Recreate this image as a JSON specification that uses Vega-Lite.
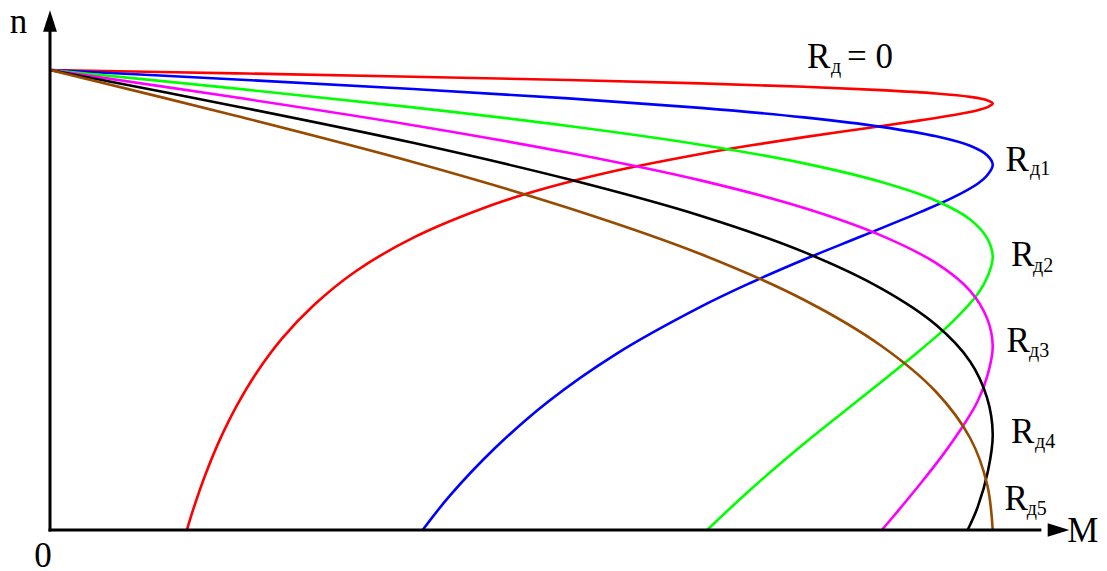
{
  "$schema": "https://vega.github.io/schema/vega-lite/v6.json",
  "autosize": {"type": "none"},
  "width": 1037,
  "height": 520,
  "padding": {"left": 50, "top": 10, "right": 20, "bottom": 41},
  "background": "white",
  "config": {"view": {"stroke": null}},
  "datasets": {
    "curves": [
      {"c":"R0","n":1,"M":0},{"c":"R0","n":0.9927,"M":0.198},{"c":"R0","n":0.9854,"M":0.385},{"c":"R0","n":0.9781,"M":0.55},{"c":"R0","n":0.9708,"M":0.69},{"c":"R0","n":0.9635,"M":0.8},{"c":"R0","n":0.9562,"M":0.882},{"c":"R0","n":0.9489,"M":0.94},{"c":"R0","n":0.9416,"M":0.976},{"c":"R0","n":0.9343,"M":0.994},{"c":"R0","n":0.927,"M":1.0},{"c":"R0","n":0.9197,"M":0.995},{"c":"R0","n":0.9124,"M":0.984},{"c":"R0","n":0.9015,"M":0.957},{"c":"R0","n":0.8905,"M":0.923},{"c":"R0","n":0.8723,"M":0.862},{"c":"R0","n":0.854,"M":0.8},{"c":"R0","n":0.8358,"M":0.7423},{"c":"R0","n":0.8175,"M":0.69},{"c":"R0","n":0.781,"M":0.6},{"c":"R0","n":0.7445,"M":0.5283},{"c":"R0","n":0.708,"M":0.471},{"c":"R0","n":0.635,"M":0.385},{"c":"R0","n":0.562,"M":0.324},{"c":"R0","n":0.489,"M":0.28},{"c":"R0","n":0.416,"M":0.246},{"c":"R0","n":0.343,"M":0.2195},{"c":"R0","n":0.27,"M":0.198},{"c":"R0","n":0.197,"M":0.1803},{"c":"R0","n":0.124,"M":0.1655},{"c":"R0","n":0.051,"M":0.1529},{"c":"R0","n":0,"M":0.1452},
      {"c":"R1","n":1,"M":0},{"c":"R1","n":0.9794,"M":0.198},{"c":"R1","n":0.9588,"M":0.385},{"c":"R1","n":0.9382,"M":0.55},{"c":"R1","n":0.9176,"M":0.69},{"c":"R1","n":0.897,"M":0.8},{"c":"R1","n":0.8764,"M":0.882},{"c":"R1","n":0.8558,"M":0.94},{"c":"R1","n":0.8352,"M":0.976},{"c":"R1","n":0.8146,"M":0.994},{"c":"R1","n":0.794,"M":1.0},{"c":"R1","n":0.7734,"M":0.995},{"c":"R1","n":0.7528,"M":0.984},{"c":"R1","n":0.7219,"M":0.957},{"c":"R1","n":0.691,"M":0.923},{"c":"R1","n":0.6395,"M":0.862},{"c":"R1","n":0.588,"M":0.8},{"c":"R1","n":0.5365,"M":0.7423},{"c":"R1","n":0.485,"M":0.69},{"c":"R1","n":0.382,"M":0.6},{"c":"R1","n":0.279,"M":0.5283},{"c":"R1","n":0.176,"M":0.471},{"c":"R1","n":0.073,"M":0.4235},{"c":"R1","n":0,"M":0.3953},
      {"c":"R2","n":1,"M":0},{"c":"R2","n":0.9594,"M":0.198},{"c":"R2","n":0.9188,"M":0.385},{"c":"R2","n":0.8782,"M":0.55},{"c":"R2","n":0.8376,"M":0.69},{"c":"R2","n":0.797,"M":0.8},{"c":"R2","n":0.7564,"M":0.882},{"c":"R2","n":0.7158,"M":0.94},{"c":"R2","n":0.6752,"M":0.976},{"c":"R2","n":0.6346,"M":0.994},{"c":"R2","n":0.594,"M":1.0},{"c":"R2","n":0.5534,"M":0.995},{"c":"R2","n":0.5128,"M":0.984},{"c":"R2","n":0.4519,"M":0.957},{"c":"R2","n":0.391,"M":0.923},{"c":"R2","n":0.2895,"M":0.862},{"c":"R2","n":0.188,"M":0.8},{"c":"R2","n":0.0865,"M":0.7423},{"c":"R2","n":0,"M":0.6971},
      {"c":"R3","n":1,"M":0},{"c":"R3","n":0.94,"M":0.198},{"c":"R3","n":0.88,"M":0.385},{"c":"R3","n":0.82,"M":0.55},{"c":"R3","n":0.76,"M":0.69},{"c":"R3","n":0.7,"M":0.8},{"c":"R3","n":0.64,"M":0.882},{"c":"R3","n":0.58,"M":0.94},{"c":"R3","n":0.52,"M":0.976},{"c":"R3","n":0.46,"M":0.994},{"c":"R3","n":0.4,"M":1.0},{"c":"R3","n":0.34,"M":0.995},{"c":"R3","n":0.28,"M":0.984},{"c":"R3","n":0.22,"M":0.9665},{"c":"R3","n":0.16,"M":0.9459},{"c":"R3","n":0.1,"M":0.923},{"c":"R3","n":0.04,"M":0.8989},{"c":"R3","n":0,"M":0.8824},
      {"c":"R4","n":1,"M":0},{"c":"R4","n":0.9208,"M":0.198},{"c":"R4","n":0.8416,"M":0.385},{"c":"R4","n":0.7624,"M":0.55},{"c":"R4","n":0.6832,"M":0.69},{"c":"R4","n":0.604,"M":0.8},{"c":"R4","n":0.5248,"M":0.882},{"c":"R4","n":0.4456,"M":0.94},{"c":"R4","n":0.3664,"M":0.976},{"c":"R4","n":0.2872,"M":0.994},{"c":"R4","n":0.208,"M":1.0},{"c":"R4","n":0.1288,"M":0.995},{"c":"R4","n":0.0496,"M":0.984},{"c":"R4","n":0,"M":0.9734},
      {"c":"R5","n":1,"M":0},{"c":"R5","n":0.9,"M":0.198},{"c":"R5","n":0.8,"M":0.385},{"c":"R5","n":0.7,"M":0.55},{"c":"R5","n":0.6,"M":0.69},{"c":"R5","n":0.5,"M":0.8},{"c":"R5","n":0.4,"M":0.882},{"c":"R5","n":0.3,"M":0.94},{"c":"R5","n":0.2,"M":0.976},{"c":"R5","n":0.1,"M":0.994},{"c":"R5","n":0,"M":1.0}
    ],
    "axes": [
      {"M":0,"n":0,"M2":0,"n2":1.085},
      {"M":0,"n":0,"M2":1.05,"n2":0}
    ],
    "arrows": [
      {"dir":"up","M":0,"n":1.1065},
      {"dir":"right","M":1.0698,"n":0}
    ],
    "bigText": [
      {"txt":"R","M":0.8031,"n":1.0037},
      {"txt":"= 0","M":0.8454,"n":1.0037},
      {"txt":"R","M":1.0135,"n":0.7811},
      {"txt":"R","M":1.0195,"n":0.5739},
      {"txt":"R","M":1.0145,"n":0.3876},
      {"txt":"R","M":1.0195,"n":0.1898},
      {"txt":"R","M":1.0124,"n":0.0435},
      {"txt":"M","M":1.079,"n":-0.0254},
      {"txt":"0","M":-0.0168,"n":-0.0798},
      {"txt":"n","M":-0.0426,"n":1.0804}
    ],
    "subText": [
      {"txt":"д","M":0.8284,"n":0.9935},
      {"txt":"д1","M":1.0395,"n":0.7717},
      {"txt":"д2","M":1.0427,"n":0.5615},
      {"txt":"д3","M":1.0385,"n":0.3767},
      {"txt":"д4","M":1.0449,"n":0.1783},
      {"txt":"д5","M":1.036,"n":0.0326}
    ]
  },
  "layer": [
    {
      "data": {"name": "curves"},
      "mark": {"type": "line", "strokeWidth": 2.6, "interpolate": "catmull-rom"},
      "encoding": {
        "x": {"field": "M", "type": "quantitative", "scale": {"domain": [0, 1.1], "nice": false, "zero": false}, "axis": null},
        "y": {"field": "n", "type": "quantitative", "scale": {"domain": [0, 1.1304], "nice": false, "zero": false}, "axis": null},
        "color": {"field": "c", "type": "nominal", "scale": {"domain": ["R0","R1","R2","R3","R4","R5"], "range": ["#ff0000","#0000ff","#00ff00","#ff00ff","#000000","#964b00"]}, "legend": null},
        "order": {"field": "n", "sort": "descending"}
      }
    },
    {
      "data": {"name": "axes"},
      "mark": {"type": "rule", "strokeWidth": 3, "color": "black", "strokeCap": "square"},
      "encoding": {
        "x": {"field": "M", "type": "quantitative"},
        "y": {"field": "n", "type": "quantitative"},
        "x2": {"field": "M2"},
        "y2": {"field": "n2"}
      }
    },
    {
      "data": {"name": "arrows"},
      "mark": {"type": "point", "filled": true, "color": "black", "opacity": 1, "size": 470},
      "encoding": {
        "x": {"field": "M", "type": "quantitative"},
        "y": {"field": "n", "type": "quantitative"},
        "shape": {"field": "dir", "type": "nominal", "scale": {"domain": ["up","right"], "range": ["M0,-1L0.64,1L-0.64,1Z", "M1,0L-1,-0.62L-1,0.62Z"]}, "legend": null}
      }
    },
    {
      "data": {"name": "bigText"},
      "mark": {"type": "text", "font": "Liberation Serif", "fontSize": 35, "align": "left", "baseline": "alphabetic", "color": "black"},
      "encoding": {
        "x": {"field": "M", "type": "quantitative"},
        "y": {"field": "n", "type": "quantitative"},
        "text": {"field": "txt"}
      }
    },
    {
      "data": {"name": "subText"},
      "mark": {"type": "text", "font": "Liberation Serif", "fontSize": 20, "align": "left", "baseline": "alphabetic", "color": "black"},
      "encoding": {
        "x": {"field": "M", "type": "quantitative"},
        "y": {"field": "n", "type": "quantitative"},
        "text": {"field": "txt"}
      }
    }
  ]
}
